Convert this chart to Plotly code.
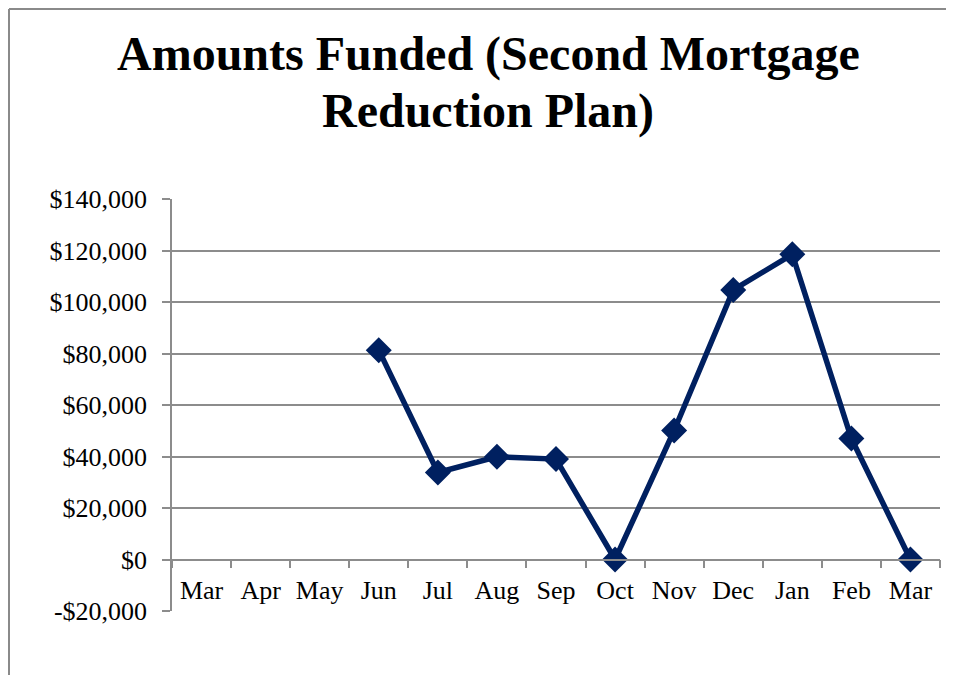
import plotly.graph_objects as go

# months in the plan (Mar through the following Mar)
months = ["Mar", "Apr", "May", "Jun", "Jul", "Aug", "Sep",
          "Oct", "Nov", "Dec", "Jan", "Feb", "Mar"]
amounts = [None, None, None, 81300, 33800, 39900, 39000,
           0, 50100, 104700, 118500, 47000, 0]
y_ticks = [-20000, 0, 20000, 40000, 60000, 80000, 100000, 120000, 140000]
y_labels = ["-$20,000", "$0", "$20,000", "$40,000", "$60,000", "$80,000",
            "$100,000", "$120,000", "$140,000"]
title_lines = ["Amounts Funded (Second Mortgage", "Reduction Plan)"]

W, H = 946, 667
L, R, T, B = 164, 14, 191, 64
pw, ph = W - L - R, H - T - B

idx = list(range(len(months)))
navy = "#002060"
grey = "#8c8c8c"
serif = "Liberation Serif"


def px_x(v):
    return (v - L) / pw


def px_y(v):
    return (H - B - v) / ph


fig = go.Figure()
fig.add_trace(go.Scatter(
    x=idx, y=amounts, mode="lines+markers",
    line=dict(color=navy, width=5.5),
    marker=dict(symbol="diamond", size=20, color=navy),
    connectgaps=False, showlegend=False,
))

# chart area border (only top and left edges show in the frame)
fig.add_shape(type="line", xref="paper", yref="paper",
              x0=px_x(1), x1=px_x(1), y0=px_y(1), y1=px_y(H + 20),
              line=dict(color="#8a8a8a", width=2))
fig.add_shape(type="line", xref="paper", yref="paper",
              x0=px_x(1), x1=px_x(W + 20), y0=px_y(1), y1=px_y(1),
              line=dict(color="#8a8a8a", width=2))

# two-line title
for line, yc in zip(title_lines, [46, 103]):
    fig.add_annotation(
        text="<b>" + line + "</b>", showarrow=False,
        xref="paper", yref="paper", x=px_x(480), y=px_y(yc),
        xanchor="center", yanchor="middle",
        font=dict(family=serif, size=48, color="black"),
    )

fig.update_layout(
    width=W, height=H,
    margin=dict(l=L, r=R, t=T, b=B),
    paper_bgcolor="white", plot_bgcolor="white",
    font=dict(family=serif, size=26, color="black"),
    xaxis=dict(
        range=[-0.5, len(months) - 0.5],
        tickmode="array", tickvals=idx, ticktext=months,
        ticks="", showgrid=False, zeroline=False,
        showline=True, linecolor=grey, linewidth=1.5,
        anchor="free", position=(0 - y_ticks[0]) / (y_ticks[-1] - y_ticks[0]),
        ticklabelstandoff=8,
        minor=dict(tickmode="array",
                   tickvals=[i - 0.5 for i in idx] + [len(months) - 0.5],
                   ticks="outside", ticklen=8, tickcolor=grey, tickwidth=1.5,
                   showgrid=False),
        fixedrange=True,
    ),
    yaxis=dict(
        range=[y_ticks[0], y_ticks[-1]],
        tickmode="array", tickvals=y_ticks, ticktext=y_labels,
        showgrid=True, gridcolor=grey, gridwidth=1.5,
        zeroline=False,
        showline=True, linecolor=grey, linewidth=1.5,
        ticks="outside", ticklen=8, tickcolor=grey, tickwidth=1.5,
        ticklabelstandoff=10,
        fixedrange=True,
    ),
)

fig.write_html("out.html")
